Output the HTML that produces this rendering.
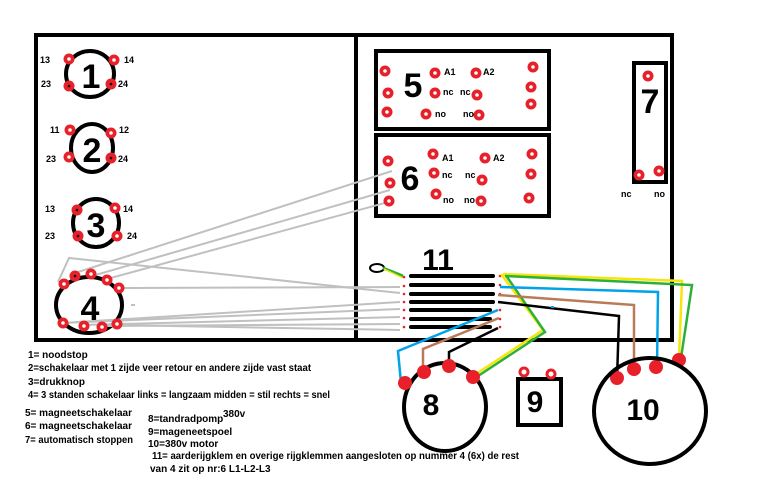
<!DOCTYPE html>
<html><head><meta charset="utf-8"><style>
html,body{margin:0;padding:0;background:#fff;}
svg{display:block;}
.big{font-family:"Liberation Sans",sans-serif;font-weight:bold;fill:#000;text-anchor:middle;}
.s{font-family:"Liberation Sans",sans-serif;font-size:9px;font-weight:bold;fill:#000;}
.t{font-family:"Liberation Sans",sans-serif;font-size:10px;fill:#000;font-weight:600;}
</style></head><body>
<svg width="777" height="480" viewBox="0 0 777 480" xmlns="http://www.w3.org/2000/svg">
<defs>
<g id="r"><circle r="5.5" fill="#e8202a"/><circle r="1.8" fill="#fff"/></g>
<g id="rb"><circle r="5.5" fill="#e8202a"/><circle r="1.3" fill="#000"/></g>
</defs>
<rect x="36" y="35" width="320" height="305" fill="none" stroke="#000" stroke-width="4"/>
<rect x="356" y="35" width="316" height="305" fill="none" stroke="#000" stroke-width="4"/>
<rect x="376" y="51" width="173" height="78" fill="none" stroke="#000" stroke-width="4"/>
<rect x="376" y="135" width="173" height="81" fill="none" stroke="#000" stroke-width="4"/>
<rect x="634" y="63" width="32" height="119" fill="none" stroke="#000" stroke-width="4"/>

<ellipse cx="90" cy="74" rx="24" ry="23" fill="none" stroke="#000" stroke-width="4"/>
<text class="big" x="91" y="88" font-size="34">1</text>
<ellipse cx="92" cy="148" rx="21" ry="24" fill="none" stroke="#000" stroke-width="4"/>
<text class="big" x="92" y="162" font-size="34">2</text>
<ellipse cx="96" cy="223" rx="23" ry="24" fill="none" stroke="#000" stroke-width="4"/>
<text class="big" x="96" y="237" font-size="34">3</text>
<ellipse cx="89" cy="305" rx="33" ry="28" fill="none" stroke="#000" stroke-width="4"/>
<text class="big" x="90" y="320" font-size="34">4</text>

<use href="#r" x="69" y="59"/><use href="#r" x="114" y="60"/><use href="#rb" x="69" y="86"/><use href="#rb" x="111" y="84"/>
<use href="#r" x="70" y="130"/><use href="#r" x="111" y="133"/><use href="#r" x="69" y="157"/><use href="#rb" x="111" y="158"/>
<use href="#rb" x="77" y="210"/><use href="#r" x="115" y="208"/><use href="#rb" x="78" y="236"/><use href="#r" x="117" y="236"/>
<text class="s" x="40" y="63">13</text><text class="s" x="124" y="63">14</text>
<text class="s" x="41" y="87">23</text><text class="s" x="118" y="87">24</text>
<text class="s" x="50" y="133">11</text><text class="s" x="119" y="133">12</text>
<text class="s" x="46" y="162">23</text><text class="s" x="118" y="162">24</text>
<text class="s" x="45" y="212">13</text><text class="s" x="123" y="212">14</text>
<text class="s" x="45" y="239">23</text><text class="s" x="127" y="239">24</text>

<g stroke="#c0c0c0" stroke-width="2" fill="none">
<polyline points="58,282 69,258 400,293"/>
<line x1="75" y1="273" x2="392" y2="171"/>
<line x1="92" y1="276" x2="390" y2="190"/>
<line x1="107" y1="279" x2="392" y2="201"/>
<line x1="119" y1="288" x2="400" y2="287"/>
<line x1="62" y1="323" x2="400" y2="302"/>
<line x1="62" y1="323" x2="400" y2="309"/>
<line x1="80" y1="325" x2="400" y2="317"/>
<line x1="100" y1="326" x2="400" y2="324"/>
<line x1="115" y1="325" x2="400" y2="330"/>
<line x1="131" y1="305" x2="135" y2="305"/>
</g>
<use href="#r" x="64" y="284"/><use href="#rb" x="75" y="276"/><use href="#r" x="91" y="274"/><use href="#r" x="107" y="280"/><use href="#r" x="119" y="288"/>
<use href="#r" x="63" y="323"/><use href="#r" x="84" y="326"/><use href="#r" x="102" y="327"/><use href="#r" x="117" y="324"/>

<text class="big" x="413" y="97" font-size="34">5</text>
<use href="#r" x="385" y="71"/><use href="#r" x="388" y="93"/><use href="#r" x="387" y="112"/>
<use href="#r" x="435" y="73"/><use href="#r" x="476" y="73"/><use href="#r" x="435" y="93"/><use href="#r" x="477" y="95"/>
<use href="#r" x="426" y="114"/><use href="#r" x="479" y="115"/>
<use href="#r" x="533" y="67"/><use href="#r" x="531" y="87"/><use href="#r" x="531" y="104"/>
<text class="s" x="444" y="75">A1</text><text class="s" x="483" y="75">A2</text>
<text class="s" x="443" y="95">nc</text><text class="s" x="460" y="95">nc</text>
<text class="s" x="435" y="117">no</text><text class="s" x="463" y="117">no</text>
<text class="big" x="410" y="190" font-size="34">6</text>
<use href="#r" x="388" y="161"/><use href="#r" x="390" y="183"/><use href="#r" x="389" y="201"/>
<use href="#r" x="433" y="154"/><use href="#r" x="485" y="158"/><use href="#r" x="434" y="173"/><use href="#r" x="482" y="180"/>
<use href="#r" x="436" y="194"/><use href="#r" x="481" y="201"/>
<use href="#r" x="532" y="154"/><use href="#r" x="531" y="174"/><use href="#r" x="529" y="198"/>
<text class="s" x="442" y="161">A1</text><text class="s" x="493" y="161">A2</text>
<text class="s" x="442" y="178">nc</text><text class="s" x="465" y="178">nc</text>
<text class="s" x="443" y="203">no</text><text class="s" x="464" y="203">no</text>
<text class="big" x="650" y="113" font-size="34">7</text>
<use href="#r" x="648" y="76"/><use href="#r" x="639" y="175"/><use href="#r" x="659" y="171"/>
<text class="s" x="621" y="197">nc</text><text class="s" x="654" y="197">no</text>

<text class="big" x="438" y="270" font-size="30">11</text>
<ellipse cx="377" cy="268" rx="7" ry="4" fill="none" stroke="#000" stroke-width="2"/>
<line x1="383" y1="268" x2="403" y2="276" stroke="#2bb03a" stroke-width="3"/>
<line x1="384" y1="269" x2="403" y2="278" stroke="#f5e50a" stroke-width="1.5"/>
<g stroke="#000" stroke-width="4" stroke-linecap="round">
<line x1="411" y1="276" x2="493" y2="276"/><line x1="411" y1="285" x2="493" y2="285"/>
<line x1="411" y1="294" x2="493" y2="294"/><line x1="411" y1="302" x2="493" y2="302"/>
<line x1="411" y1="310" x2="490" y2="310"/><line x1="411" y1="319" x2="490" y2="319"/>
<line x1="411" y1="327" x2="490" y2="327"/>
</g>
<g fill="#e8202a"><circle cx="404" cy="277" r="1.3"/><circle cx="404" cy="286" r="1.3"/><circle cx="404" cy="294" r="1.3"/><circle cx="404" cy="302" r="1.3"/><circle cx="404" cy="310" r="1.3"/><circle cx="404" cy="318" r="1.3"/><circle cx="404" cy="327" r="1.3"/>
<circle cx="500" cy="276" r="1.3"/><circle cx="500" cy="285" r="1.3"/><circle cx="500" cy="294" r="1.3"/><circle cx="500" cy="302" r="1.3"/><circle cx="500" cy="310" r="1.3"/><circle cx="500" cy="319" r="1.3"/><circle cx="500" cy="327" r="1.3"/></g>

<g fill="none" stroke-width="2.5">
<polyline stroke="#f5e50a" points="501,274 543,330 473,376"/>
<polyline stroke="#2bb03a" points="505,274 545,332 475,378"/>
<polyline stroke="#f5e50a" points="503,274 682,281 679,358"/>
<polyline stroke="#2bb03a" points="505,276 692,285 681,358"/>
<polyline stroke="#00a2e8" points="500,287 658,292 657,368"/>
<polyline stroke="#b97a57" points="498,295 634,305 634,370"/>
<polyline stroke="#000" points="498,302 619,316 617,380"/>
<polyline stroke="#00a2e8" points="498,310 398,351 401,383"/>
<polyline stroke="#b97a57" points="499,318 423,349 423,370"/>
<polyline stroke="#000" points="498,328 449,352 449,365"/>
</g>
<line x1="551" y1="307" x2="554" y2="307" stroke="#00a2e8" stroke-width="2"/>

<ellipse cx="445" cy="407" rx="41" ry="44" fill="none" stroke="#000" stroke-width="4"/>
<text class="big" x="431" y="415" font-size="30">8</text>
<g fill="#e8202a"><circle cx="405" cy="383" r="7"/><circle cx="424" cy="372" r="7"/><circle cx="449" cy="366" r="7"/><circle cx="473" cy="377" r="7"/>
<circle cx="617" cy="378" r="7"/><circle cx="634" cy="369" r="7"/><circle cx="656" cy="367" r="7"/><circle cx="679" cy="360" r="7"/></g>
<rect x="518" y="379" width="43" height="46" fill="none" stroke="#000" stroke-width="4"/>
<text class="big" x="535" y="412" font-size="30">9</text>
<circle cx="524" cy="372" r="5.5" fill="#e8202a"/><circle cx="524" cy="372" r="2.5" fill="#fff"/>
<circle cx="551" cy="374" r="5.5" fill="#e8202a"/><circle cx="551" cy="374" r="2.5" fill="#fff"/>
<ellipse cx="650" cy="411" rx="56" ry="53" fill="none" stroke="#000" stroke-width="4"/>
<text class="big" x="643" y="420" font-size="30">10</text>

<text class="t" x="28" y="358">1= noodstop</text>
<text class="t" x="28" y="371" textLength="283" lengthAdjust="spacingAndGlyphs">2=schakelaar met 1 zijde veer retour en andere zijde vast staat</text>
<text class="t" x="28" y="385">3=drukknop</text>
<text class="t" x="28" y="398" textLength="302" lengthAdjust="spacingAndGlyphs">4= 3 standen schakelaar links = langzaam midden = stil rechts = snel</text>
<text class="t" x="25" y="416">5= magneetschakelaar</text>
<text class="t" x="25" y="429">6= magneetschakelaar</text>
<text class="t" x="25" y="443" textLength="108" lengthAdjust="spacingAndGlyphs">7= automatisch stoppen</text>
<text class="t" x="148" y="422">8=tandradpomp</text>
<text class="t" x="223" y="417" font-size="9">380v</text>
<text class="t" x="148" y="435">9=mageneetspoel</text>
<text class="t" x="148" y="447">10=380v motor</text>
<text class="t" x="152" y="459" textLength="367" lengthAdjust="spacingAndGlyphs">11= aarderijgklem en overige rijgklemmen aangesloten op nummer 4 (6x) de rest</text>
<text class="t" x="150" y="472">van 4 zit op nr:6 L1-L2-L3</text>
</svg>
</body></html>
